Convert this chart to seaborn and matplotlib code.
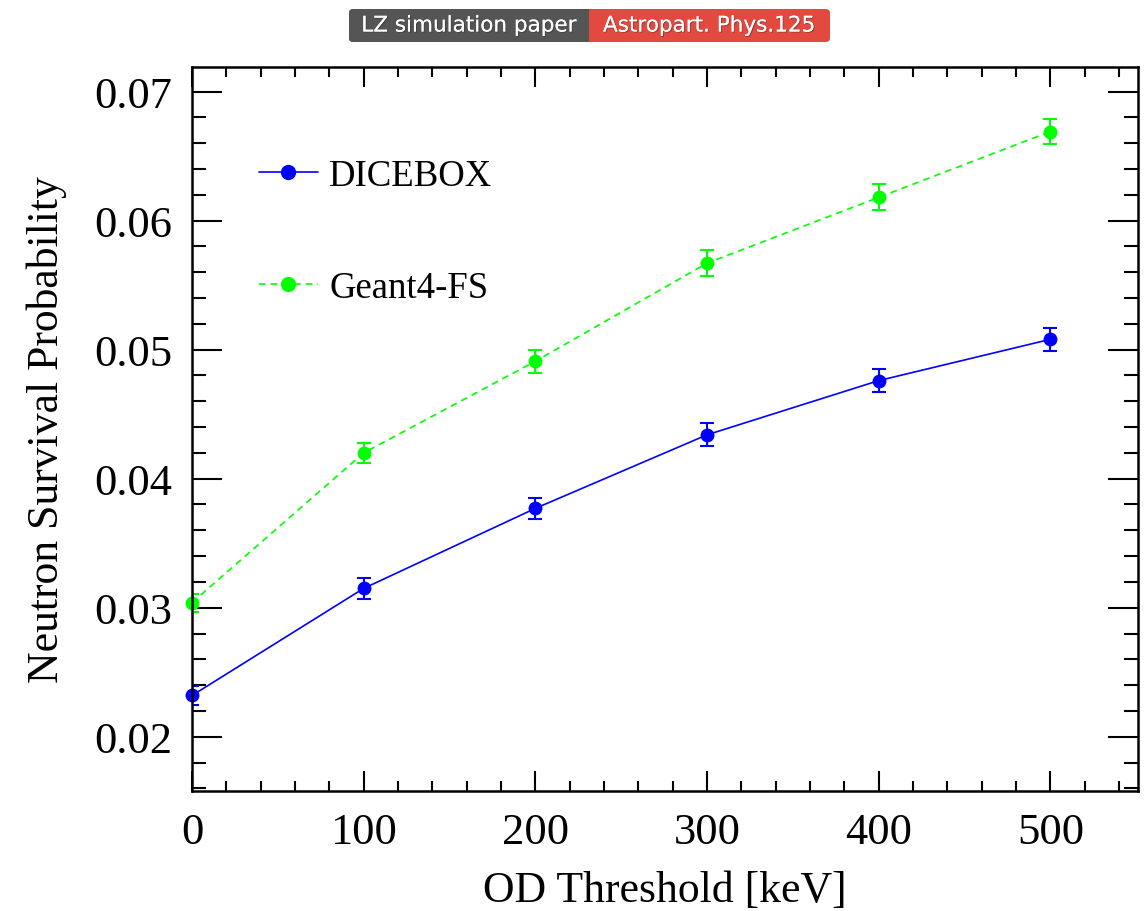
import numpy as np
import pandas as pd
import matplotlib
matplotlib.use("Agg")
import matplotlib.pyplot as plt
from matplotlib.patches import FancyBboxPatch
from matplotlib.ticker import MultipleLocator
import matplotlib.patheffects as pe
import seaborn as sns

thresholds = [0, 100, 200, 300, 400, 500]
dicebox = [0.0232, 0.0315, 0.0377, 0.0434, 0.0476, 0.0508]
dicebox_err = [0.0007, 0.0008, 0.0008, 0.0009, 0.0009, 0.0009]
geant4 = [0.0304, 0.0420, 0.0491, 0.0567, 0.0618, 0.0669]
geant4_err = [0.0007, 0.0008, 0.0009, 0.0010, 0.0010, 0.0010]
series_names = ["DICEBOX", "Geant4-FS"]

sns.set_style("ticks")
plt.rcParams['font.family'] = ['Liberation Serif', 'DejaVu Serif']
plt.rcParams['text.color'] = 'black'
plt.rcParams['axes.labelcolor'] = 'black'
plt.rcParams['xtick.color'] = 'black'
plt.rcParams['ytick.color'] = 'black'

df = pd.DataFrame({
    "x": thresholds * 2,
    "y": dicebox + geant4,
    "err": dicebox_err + geant4_err,
    "series": [series_names[0]] * 6 + [series_names[1]] * 6,
})

fig = plt.figure(figsize=(11.48, 9.12), dpi=100)
ax = fig.add_axes([192/1148, 1 - 792/912, (1138-192)/1148, (792-68)/912])

palette = {"DICEBOX": "#0000ff", "Geant4-FS": "#00ff00"}
sns.lineplot(data=df, x="x", y="y", hue="series", style="series",
             palette=palette, dashes={"DICEBOX": "", "Geant4-FS": (4, 3)},
             markers={"DICEBOX": "o", "Geant4-FS": "o"}, markersize=10,
             markeredgewidth=0, linewidth=1.2, ax=ax, legend=True, clip_on=False)
for name, col in palette.items():
    sub = df[df.series == name]
    ax.errorbar(sub.x, sub.y, yerr=sub.err, fmt="none", ecolor=col,
                elinewidth=1.5, capsize=5, capthick=1.5)

ax.set_xlim(0, 551)
ax.set_ylim(0.0158, 0.0719)
ax.xaxis.set_major_locator(MultipleLocator(100))
ax.xaxis.set_minor_locator(MultipleLocator(20))
ax.yaxis.set_major_locator(MultipleLocator(0.01))
ax.yaxis.set_minor_locator(MultipleLocator(0.002))
ax.yaxis.set_major_formatter(matplotlib.ticker.FuncFormatter(lambda v, p: f"{v:.2f}"))
ax.tick_params(which="both", direction="in", top=True, right=True, width=1.5, colors="black")
ax.tick_params(axis="y", which="major", length=21.5, labelsize=32, pad=14)
ax.tick_params(axis="y", which="minor", length=10)
ax.tick_params(axis="x", which="major", length=14.5, labelsize=32, pad=15)
ax.tick_params(axis="x", which="minor", length=7.5)
for s in ax.spines.values():
    s.set_linewidth(1.8)
    s.set_color("black")

ax.set_xlabel("OD Threshold [keV]", fontsize=31.5, labelpad=13)
ax.set_ylabel("Neutron Survival Probability", fontsize=31.5, labelpad=20)

leg = ax.legend(loc="upper left", bbox_to_anchor=(0.055, 0.894), frameon=False,
                fontsize=26.5, labelspacing=2.1, handlelength=1.6, handletextpad=0.32,
                borderaxespad=0, markerscale=1.1)

# badge
w1, w2 = 240/1148, 241/1148
x0, y0, h = 349/1148, 1 - 43/912, 33/912
fig.patches.append(FancyBboxPatch((x0, y0), w1 + w2, h, boxstyle="round,pad=0,rounding_size=0.004",
                                  transform=fig.transFigure, facecolor="#e2493f", edgecolor="none"))
fig.patches.append(FancyBboxPatch((x0, y0), w1, h, boxstyle="round,pad=0,rounding_size=0.004",
                                  transform=fig.transFigure, facecolor="#555555", edgecolor="none"))
fig.patches.append(plt.Rectangle((x0 + w1 - 0.01, y0), 0.01, h, transform=fig.transFigure,
                                 facecolor="#555555", edgecolor="none"))
shadow = [pe.withSimplePatchShadow(offset=(0.8, -0.8), shadow_rgbFace="#222222", alpha=0.35), pe.Normal()]
fig.text(x0 + w1/2, y0 + h/2, "LZ simulation paper", color="white", ha="center", va="center",
         fontsize=15.5, family="DejaVu Sans", path_effects=shadow)
fig.text(x0 + w1 + w2/2, y0 + h/2, "Astropart. Phys.125", color="white", ha="center", va="center",
         fontsize=15.5, family="DejaVu Sans", path_effects=shadow)

fig.savefig("out.png", dpi=100)
